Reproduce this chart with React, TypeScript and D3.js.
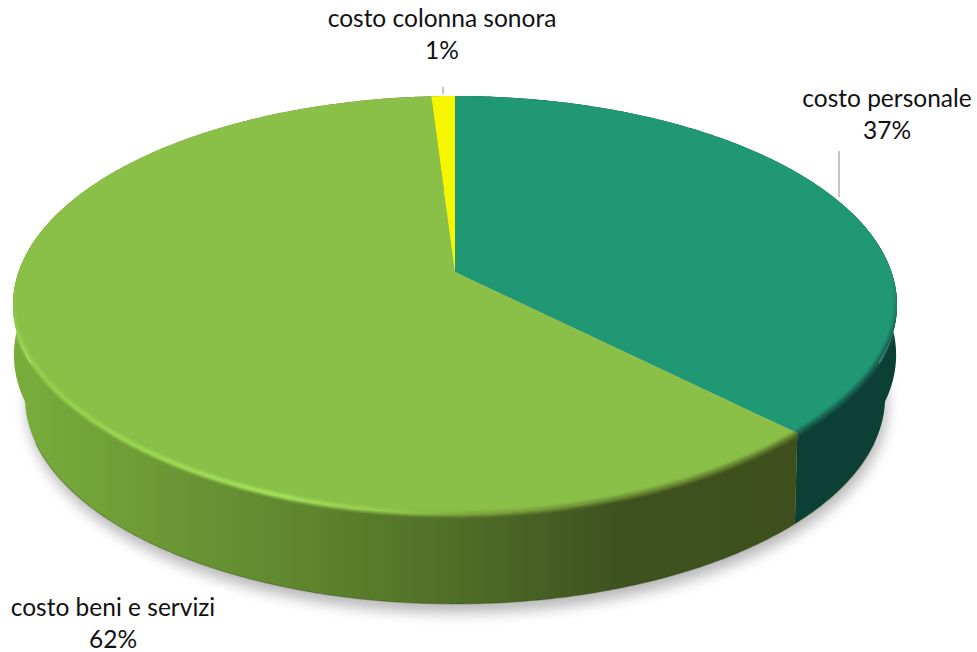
import * as d3 from 'd3'

// Slice data, clockwise from 12 o'clock
const categories = ['costo personale', 'costo beni e servizi', 'costo colonna sonora']
const shares = [37.4, 61.6, 1.0]
const shareLabels = ['37%', '62%', '1%']
const topColors = ['#1f9873', '#8abf48', '#f6f600']
const sideColors = ['#0c4034', 'url(#sideGreen)', '#8a8a00']

const WIDTH = 977
const HEIGHT = 652
const CX = 455
const APEX_Y = 272
const TOP_BACK = 176
const TOP_FRONT = 242
const RX = 442

// Perspective of the pie's disc: the apex sits above the middle of the rim ellipse
const k = (TOP_FRONT - TOP_BACK) / (TOP_FRONT + TOP_BACK)
const B = TOP_BACK * (1 + k)
const R = RX * Math.sqrt(1 - k * k)
const rimY = (APEX_Y - TOP_BACK + APEX_Y + TOP_FRONT) / 2
const rimRy = (TOP_BACK + TOP_FRONT) / 2

function outerRim(angle: number): [number, number] {
  const u = Math.sin(angle)
  const v = -Math.cos(angle)
  const w = 1 / (1 - k * v)
  return [CX + R * u * w, APEX_Y + B * v * w]
}

// Flat part of the top: the bevel eats into it along the front
function rim(angle: number): [number, number] {
  const [x, y] = outerRim(angle)
  const t = Math.max(0, (y - rimY) / rimRy)
  return [CX + (x - CX) * (1 - 0.03 * t * t * (3 - 2 * t)), y]
}

// Middle of the wall, gives the rounded shoulder at left and right
function midRim(angle: number): [number, number] {
  const [x, y] = outerRim(angle)
  return [CX + (x - CX) * 0.998, y + 50]
}

// Bottom rim is the top rim pushed down and a little smaller
function lowerRim(angle: number): [number, number] {
  const [x, y] = outerRim(angle)
  return [CX + (x - CX) * 0.973, 397 + (y - rimY) * 0.99]
}

function sweep(a0: number, a1: number) {
  const steps = Math.max(2, Math.ceil((a1 - a0) / 0.01))
  return d3.range(steps + 1).map(i => a0 + ((a1 - a0) * i) / steps)
}

function band(arc: number[], upper: (a: number) => [number, number], lower: (a: number) => [number, number]) {
  return line([...arc.map(upper), ...arc.slice().reverse().map(lower)])! + 'Z'
}

const line = d3.line()
const pieAngles = d3.pie<number>().sort(null)(shares)

const labelBoxes = [
  { x: 887, y: 107 },
  { x: 113, y: 616 },
  { x: 442, y: 27 },
]
const leaders = [
  [[839, 151], [839, 197]],
  [[443, 87], [443, 94]],
]
// Shoulder ranges per slice (personale on the right, beni e servizi on the left)
const shoulders = [
  { slice: 0, a0: 0.4, a1: 0.66 },
  { slice: 1, a0: 1.3, a1: 1.6 },
]

export default function App() {
  const outline = sweep(0, Math.PI * 2)
  const lowerFront = sweep(Math.PI * 0.62, Math.PI * 1.38).map(lowerRim)
  const silhouette = [outerRim, midRim, lowerRim].map(f => line(outline.map(f))! + 'Z').join('')
  return (
    <svg
      width={WIDTH}
      height={HEIGHT}
      style={{ position: 'absolute', left: 0, top: 0, background: '#fff' }}
      fontFamily="Lato, sans-serif"
    >
      <defs>
        <linearGradient id="sideGreen" gradientUnits="userSpaceOnUse" x1="20" x2="800" y1="0" y2="0">
          <stop offset="0" stopColor="#78ad3c" />
          <stop offset="0.167" stopColor="#6d9a35" />
          <stop offset="0.359" stopColor="#5f862e" />
          <stop offset="0.551" stopColor="#506f27" />
          <stop offset="0.769" stopColor="#3e5220" />
          <stop offset="1" stopColor="#3e4f1b" />
        </linearGradient>
        <linearGradient id="bevel" gradientUnits="userSpaceOnUse" x1="13" x2="800" y1="0" y2="0">
          <stop offset="0" stopColor="#93cf4c" />
          <stop offset="0.11" stopColor="#9ad850" />
          <stop offset="0.34" stopColor="#a8e65e" />
          <stop offset="0.47" stopColor="#96cc50" />
          <stop offset="0.58" stopColor="#7ea83e" />
          <stop offset="0.75" stopColor="#6c8c34" />
          <stop offset="1" stopColor="#5f7a2c" />
        </linearGradient>
        <linearGradient id="fadeIn" gradientUnits="userSpaceOnUse" x1="0" x2="0" y1="275" y2="340">
          <stop offset="0" stopColor="#000" />
          <stop offset="1" stopColor="#fff" />
        </linearGradient>
        <mask id="bevelFade" maskUnits="userSpaceOnUse" x="0" y="0" width={WIDTH} height={HEIGHT}>
          <rect width={WIDTH} height={HEIGHT} fill="url(#fadeIn)" />
        </mask>
        <clipPath id="pieClip">
          <path d={silhouette} />
        </clipPath>
        <filter id="shadow" x="-10%" y="-10%" width="120%" height="120%">
          <feGaussianBlur stdDeviation="7" />
        </filter>
        <filter id="soft" x="-5%" y="-5%" width="110%" height="110%">
          <feGaussianBlur stdDeviation="1.8" />
        </filter>
      </defs>

      {/* drop shadow under the disc */}
      <path
        d={line(outline.map(a => {
          const [x, y] = lowerRim(a)
          return [x + 2, y + 9] as [number, number]
        }))! + 'Z'}
        fill="#000"
        opacity={0.28}
        filter="url(#shadow)"
      />
      {/* the label box sits on top of the shadow */}
      <rect x={0} y={587} width={224} height={65} fill="#fff" />

      {/* side wall, slice by slice */}
      {shoulders.map(s => (
        <path
          key={s.slice}
          d={band(sweep(Math.PI * s.a0, Math.PI * s.a1), outerRim, midRim)}
          fill={sideColors[s.slice]}
        />
      ))}
      {pieAngles.map((d, i) => (
        <path
          key={categories[i]}
          d={band(sweep(d.startAngle, d.endAngle), rim, lowerRim)}
          fill={sideColors[i]}
        />
      ))}
      <path d={line(lowerFront)!} fill="none" stroke="#2c3f0c" strokeOpacity={0.35} strokeWidth={1.2} />

      {/* top face */}
      {pieAngles.map((d, i) => (
        <path
          key={categories[i]}
          d={line([[CX, APEX_Y], ...sweep(d.startAngle, d.endAngle).map(rim)])! + 'Z'}
          fill={topColors[i]}
        />
      ))}

      {/* soft bevel along the rim */}
      <g clipPath="url(#pieClip)">
        <g mask="url(#bevelFade)">
          <path
            d={line(sweep(pieAngles[1].startAngle, Math.PI * 1.5).map(rim))!}
            fill="none"
            stroke="url(#bevel)"
            strokeWidth={4.5}
            filter="url(#soft)"
          />
          <path
            d={line(sweep(Math.PI * 0.5, pieAngles[0].endAngle).map(rim))!}
            fill="none"
            stroke="#155f4c"
            strokeWidth={4.5}
            filter="url(#soft)"
          />
        </g>
      </g>

      {leaders.map((pts, i) => (
        <path key={i} d={line(pts as [number, number][])!} stroke="#b3b3b3" strokeWidth={1.5} fill="none" />
      ))}

      {categories.map((c, i) => (
        <text key={c} x={labelBoxes[i].x} y={labelBoxes[i].y} textAnchor="middle" fontSize={24.5} fill="#111">
          <tspan x={labelBoxes[i].x}>{c}</tspan>
          <tspan x={labelBoxes[i].x} dy={32}>{shareLabels[i]}</tspan>
        </text>
      ))}
    </svg>
  )
}
